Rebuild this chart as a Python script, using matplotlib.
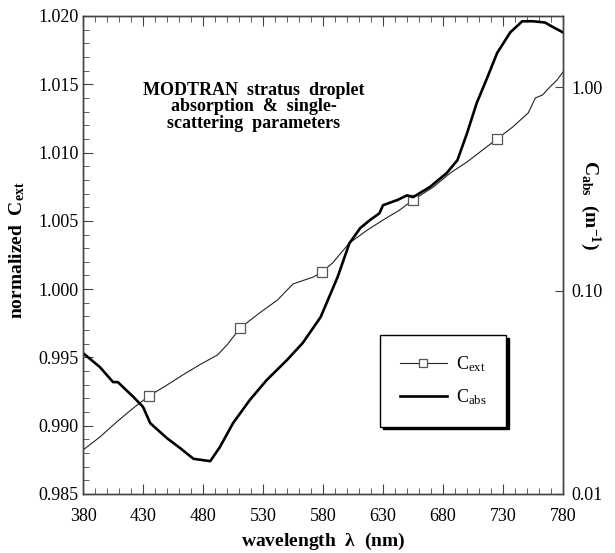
import matplotlib.pyplot as plt
from matplotlib.ticker import MultipleLocator, FixedLocator, NullLocator

plt.rcParams['font.family'] = 'Liberation Serif'
plt.rcParams['mathtext.fontset'] = 'custom'
plt.rcParams['mathtext.rm'] = 'Liberation Serif'
plt.rcParams['mathtext.bf'] = 'Liberation Serif:bold'
plt.rcParams['mathtext.it'] = 'Liberation Serif:italic'

# нормированный коэффициент экстинкции (левая ось)
wl_ext = [380, 394, 408, 422, 435, 450, 463, 477, 492, 500, 511, 527, 542, 555, 572,
          579, 588, 602, 617, 630, 644, 655, 672, 686, 700, 713, 725, 738, 751, 757,
          763, 769, 775, 780]
c_ext = [0.98822, 0.98917, 0.99027, 0.9913, 0.99218, 0.99298, 0.99371, 0.99445, 0.99518,
         0.99591, 0.99716, 0.99825, 0.9992, 1.00038, 1.00089, 1.00125, 1.00192, 1.00338,
         1.00433, 1.00506, 1.0058, 1.00653, 1.00748, 1.0085, 1.00931, 1.01019, 1.01099,
         1.01187, 1.0129, 1.014, 1.01422, 1.0148, 1.01531, 1.0159]
ext_markers = [4, 10, 15, 21, 26]

# коэффициент поглощения (правая ось, лог.)
wl_abs = [380, 394, 405, 409, 422, 430, 436, 450, 461, 472, 486, 494, 505, 519, 533, 550,
          563, 578, 592, 602, 611, 619, 627, 630, 642, 650, 655, 669, 683, 692, 700, 708,
          717, 725, 736, 746, 755, 765, 772, 780]
c_abs = [0.0493, 0.0421, 0.0355, 0.0355, 0.030, 0.0268, 0.0223, 0.0188, 0.0168, 0.0149,
         0.0145, 0.0170, 0.0223, 0.0290, 0.0363, 0.0456, 0.0552, 0.0741, 0.116, 0.171,
         0.203, 0.222, 0.240, 0.263, 0.279, 0.294, 0.288, 0.323, 0.378, 0.438, 0.594,
         0.834, 1.12, 1.47, 1.86, 2.11, 2.11, 2.08, 1.97, 1.86]

x_ticks = [380, 430, 480, 530, 580, 630, 680, 730, 780]
abs_ticks = [0.01, 0.1, 1.0]
abs_tick_labels = ['0.01', '0.10', '1.00']

fig = plt.figure(figsize=(6.15, 5.53), dpi=100)
ax = fig.add_axes([0.135, 0.1067, 0.7805, 0.8644])
ax2 = ax.twinx()

l1, = ax.plot(wl_ext, c_ext, color='#222222', lw=0.8, marker='s', markevery=ext_markers,
              ms=7, mfc='white', mec='#555555', mew=0.9)
l2, = ax2.plot(wl_abs, c_abs, color='black', lw=1.9)

ax.set_xlim(380, 780)
ax.set_ylim(0.985, 1.020)
ax2.set_yscale('log')
ax2.set_ylim(0.01, 2.24)

ax.xaxis.set_major_locator(FixedLocator(x_ticks))
ax.xaxis.set_minor_locator(MultipleLocator(10))
ax.yaxis.set_major_locator(MultipleLocator(0.005))
ax.yaxis.set_minor_locator(MultipleLocator(0.001))
ax.yaxis.set_major_formatter(plt.FormatStrFormatter('%.3f'))
ax.tick_params(which='both', direction='in', top=True, right=False, labelsize=13,
               color='#444444')
ax.tick_params(axis='x', pad=10)
ax.tick_params(axis='y', pad=3)
ax.tick_params(which='major', length=7)
ax.tick_params(which='minor', length=4)

ax2.yaxis.set_major_locator(FixedLocator(abs_ticks))
ax2.yaxis.set_minor_locator(NullLocator())
ax2.set_yticklabels(abs_tick_labels)
ax2.tick_params(which='major', direction='in', length=6, labelsize=13, color='#444444', pad=6)

for a in (ax, ax2):
    for s in a.spines.values():
        s.set_color('#444444')
        s.set_linewidth(1.0)

ax.set_xlabel(r'wavelength  $\mathbf{\lambda}$  (nm)', fontsize=14, fontweight='bold',
              va='center')
ax.set_ylabel(r'normalized  C$_{\mathbf{ext}}$', fontsize=14, fontweight='bold')
ax2.set_ylabel(r'C$_{\mathbf{abs}}$  (m$^{\mathbf{-1}}$)', fontsize=14, fontweight='bold',
               rotation=270, va='center')
ax.xaxis.set_label_coords(0.5, -0.1)
ax.yaxis.set_label_coords(-0.117, 0.51)
ax2.yaxis.set_label_coords(1.057, 0.605)

ax.text(0.355, 0.81, 'MODTRAN  stratus  droplet\nabsorption  &  single-\nscattering  parameters',
        transform=ax.transAxes, ha='center', va='center', fontsize=13, fontweight='bold',
        linespacing=0.95)

leg = ax.legend([l1, l2], [r'C$_{\rm ext}$', r'C$_{\rm abs}$'], loc='center',
                bbox_to_anchor=(0.75, 0.237), fontsize=13, frameon=True, fancybox=False,
                shadow={'facecolor': 'black', 'edgecolor': 'black', 'alpha': 1},
                handlelength=2.6, handletextpad=0.5, borderpad=1.1, labelspacing=0.7,
                markerscale=0.8)
leg.get_frame().set_edgecolor('black')
leg.get_frame().set_linewidth(1.0)
leg.set_zorder(5)

fig.savefig('out.png', dpi=100)
